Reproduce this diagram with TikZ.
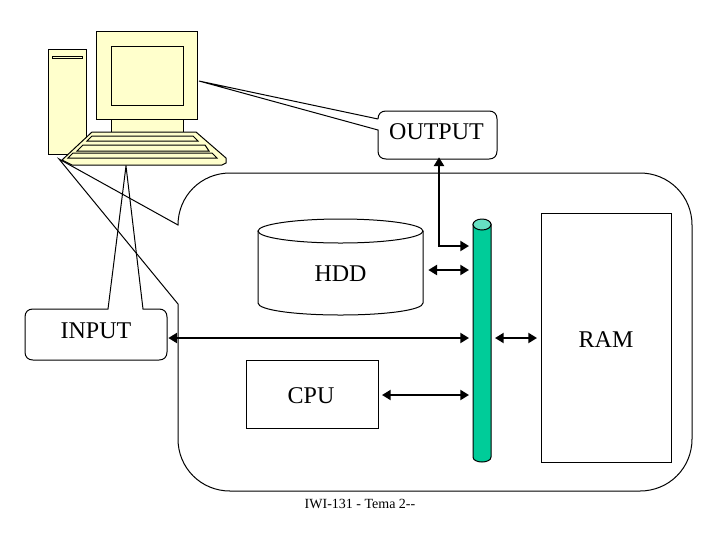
\documentclass[tikz,border=0pt]{standalone}
\usepackage{fontspec}
\setmainfont{Liberation Serif}
\usetikzlibrary{arrows.meta}
\definecolor{pale}{RGB}{255,255,204}
\definecolor{busgreen}{RGB}{0,204,153}
\definecolor{bustop}{RGB}{102,224,194}
\tikzset{
  thin line/.style={line width=0.75pt,line join=miter},
  body/.style={thin line,draw=black,fill=pale},
  label box/.style={inner sep=0pt,outer sep=0pt,font=\fontsize{18}{20}\selectfont},
  wire/.style={line width=1.5pt,{Triangle[length=6.5pt,width=7.5pt]}-{Triangle[length=6.5pt,width=7.5pt]}}
}
\begin{document}
\begin{tikzpicture}[x=0.75pt,y=-0.75pt]
\useasboundingbox (0,0) rectangle (720,540);
\fill[white] (0,0) rectangle (720,540);

% enclosure with its pointer
\draw[thin line] (178,225) .. controls (178,196) and (201,173) .. (230,173)
  -- (640,173) .. controls (669,173) and (692,196) .. (692,225)
  -- (692,439) .. controls (692,468) and (669,491) .. (640,491)
  -- (230,491) .. controls (201,491) and (178,468) .. (178,439)
  -- (178,304) -- (59,159) -- cycle;

% OUTPUT callout
\draw[thin line] (378,119) -- (199,81) -- (378,130)
  -- (378,151) .. controls (378,156) and (381,159) .. (386,159)
  -- (489,159) .. controls (494,159) and (497,156) .. (497,151)
  -- (497,119) .. controls (497,114) and (494,111) .. (489,111)
  -- (386,111) .. controls (381,111) and (378,114) .. (378,119);
\node[label box,minimum width=119*0.75pt,minimum height=48*0.75pt] (output) at (436.5,132) {OUTPUT};

% INPUT callout
\draw[thin line] (108,309) -- (126,166) -- (143,309)
  -- (159,309) .. controls (164,309) and (167,312) .. (167,317)
  -- (167,352) .. controls (167,357) and (164,360) .. (159,360)
  -- (33,360) .. controls (28,360) and (25,357) .. (25,352)
  -- (25,317) .. controls (25,312) and (28,309) .. (33,309) -- cycle;
\node[label box,minimum width=142*0.75pt,minimum height=51*0.75pt] (input) at (96,331) {INPUT};

% computer
\draw[body] (48,49) rectangle (86,154);
\draw[body] (52,56) rectangle (82,58);
\draw[body] (111,119) rectangle (183,133);
\draw[body] (96,31) rectangle (197,119);
\draw[body] (111,46) rectangle (183,105);
\draw[body] (92,132) -- (196,132) -- (226,158) -- (226,163) -- (222,165) -- (72,165) -- (62,160) -- cycle;
\draw[body] (92,136) -- (193,136) -- (198,141) -- (87,141) -- cycle;
\draw[body] (83,145) -- (205,145) -- (209,151) -- (77,151) -- cycle;
\draw[body] (73,153) -- (212,153) -- (217,158) -- (68,158) -- cycle;

% HDD
\draw[thin line,fill=white] (258,231) -- (258,303) .. controls (258,310) and (295,315) .. (340.5,315)
  .. controls (386,315) and (423,310) .. (423,303) -- (423,231);
\draw[thin line] (340.5,231) ellipse [x radius=82.5,y radius=12];
\node[label box,minimum width=165*0.75pt,minimum height=60*0.75pt] (hdd) at (340.5,274) {HDD};

% CPU and RAM
\node[label box,draw,thin line,minimum width=132*0.75pt,minimum height=68*0.75pt] (cpu) at (312,394) {};
\node[label box] (cputext) at (311,396) {CPU};
\node[label box,draw,thin line,minimum width=130*0.75pt,minimum height=249*0.75pt] (ram) at (606,337.5) {};
\node[label box] (ramtext) at (606,340) {RAM};

% bus
\node[inner sep=0pt,outer sep=0pt,minimum width=18*0.75pt,minimum height=243*0.75pt] (bus) at (482,340.5) {};
\draw[thin line,fill=busgreen] (473,224) -- (473,457) .. controls (473,460) and (477,462) .. (482,462)
  .. controls (487,462) and (491,460) .. (491,457) -- (491,224) -- cycle;
\draw[thin line,fill=bustop] (482,224.5) ellipse [x radius=9,y radius=5.5];

% connectors
\coordinate (yh) at (0,270);
\coordinate (yi) at (0,338);
\coordinate (yc) at (0,395);
\coordinate (yo) at (0,246);
\coordinate (xo) at (439,0);
\draw[wire,shorten <=1pt,shorten >=3pt] (input.east |- yi) -- (bus.west |- yi);
\draw[wire,shorten <=3pt,shorten >=3pt] (cpu.east |- yc) -- (bus.west |- yc);
\draw[wire,shorten <=4pt,shorten >=3pt] (hdd.east |- yh) -- (bus.west |- yh);
\draw[wire,shorten <=3pt,shorten >=3pt] (bus.east |- yi) -- (ram.west |- yi);
\draw[wire,shorten <=1pt,shorten >=3pt]
  (xo |- output.south) -- (xo |- yo) -- (bus.west |- yo);

% footer
\node[inner sep=0pt,font=\fontsize{10.5}{12}\selectfont] (foot) at (360,504) {IWI-131 - Tema 2{-}{-}};
\end{tikzpicture}
\end{document}
